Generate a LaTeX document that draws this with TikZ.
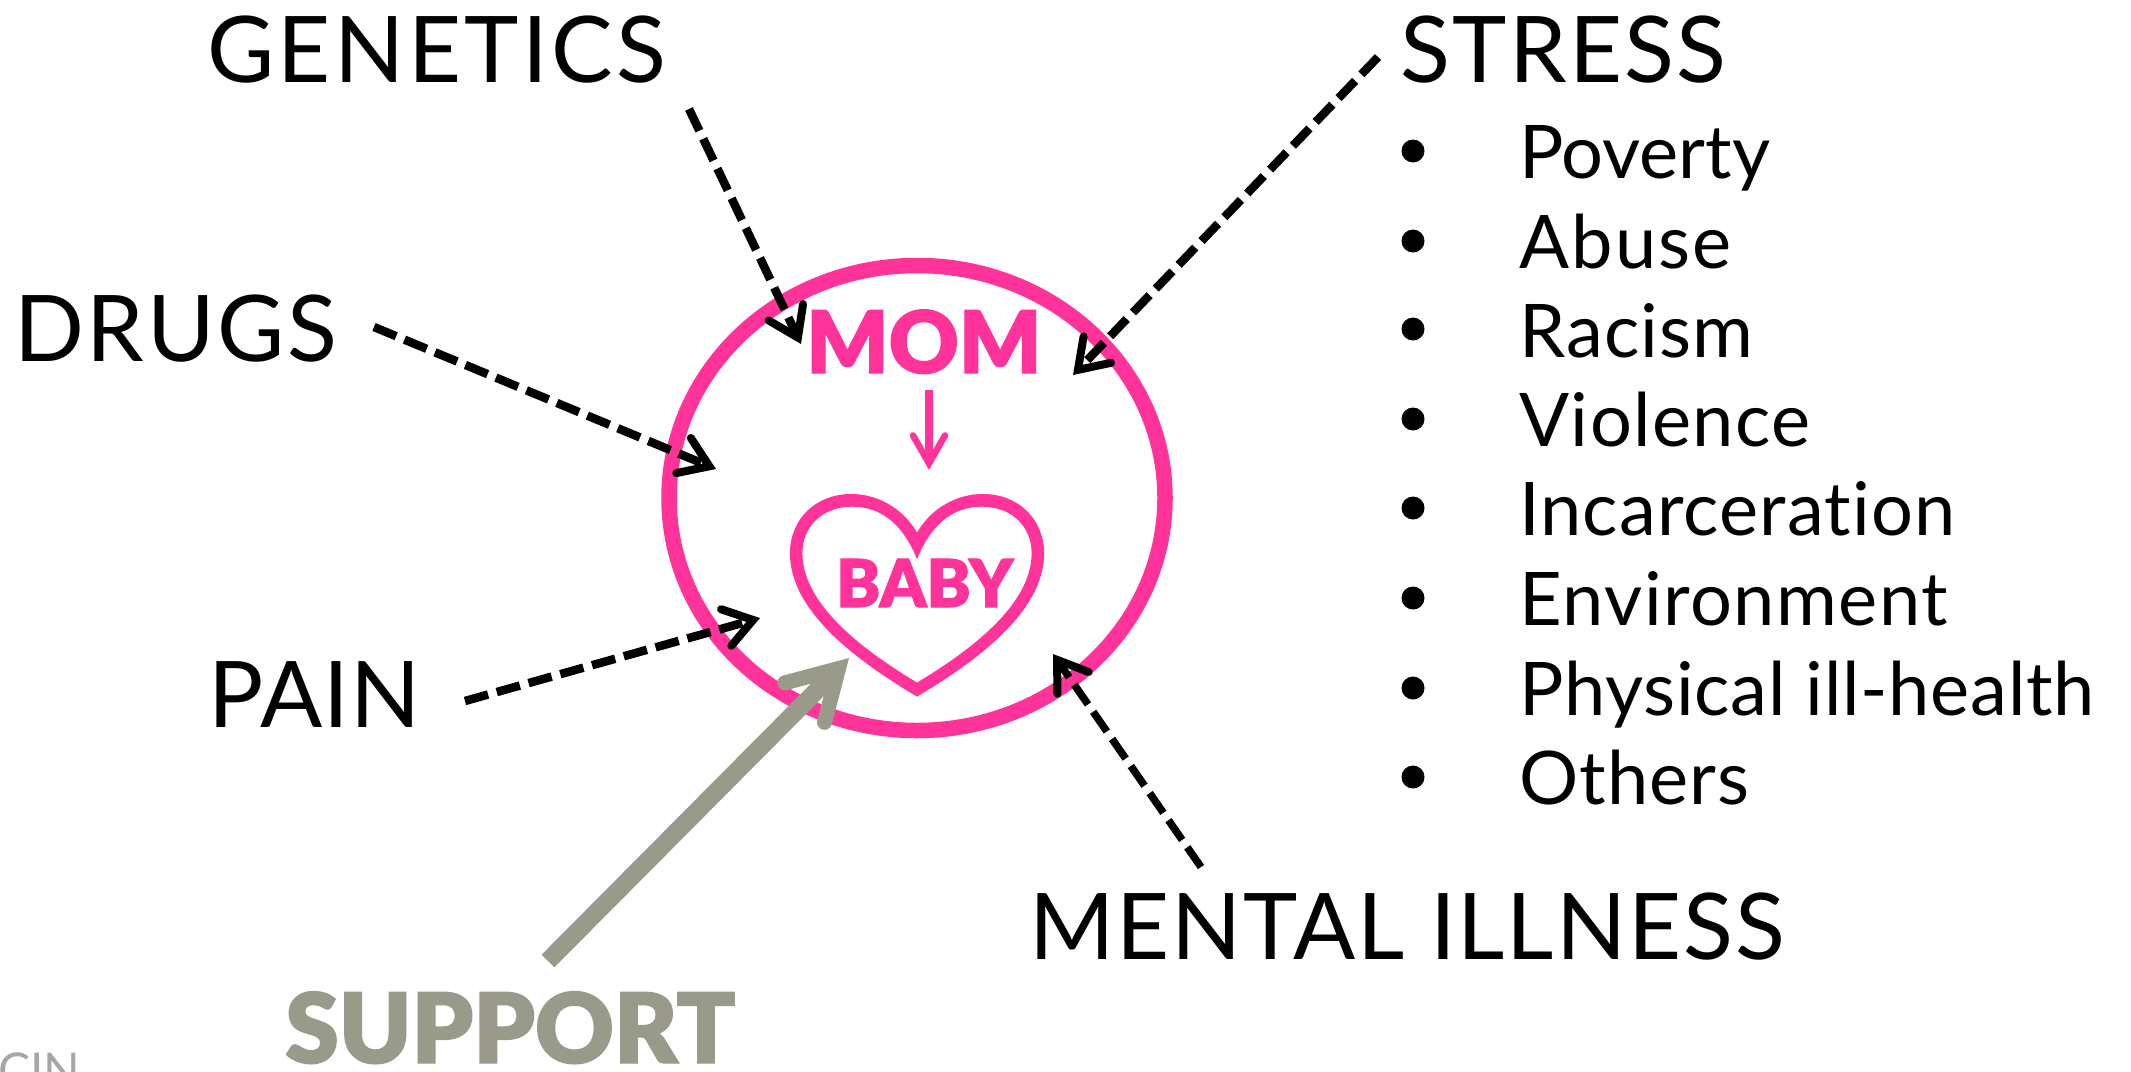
\documentclass[tikz,border=0pt]{standalone}
\usepackage{fontspec}
\usetikzlibrary{arrows.meta}
\newfontfamily\thinfont[Ligatures=NoCommon]{Lato Regular}
\newfontfamily\heavyfont[FakeBold=1.5]{Lato Black}
\newcommand{\spaced}[1]{\addfontfeatures{LetterSpace=#1}}
\definecolor{momPink}{HTML}{FF3399}
\definecolor{supGrey}{HTML}{9A9A8A}
\tikzset{
  x=1pt,y=-1pt,
  bigtxt/.style={anchor=base west,inner sep=0pt,font=\thinfont\fontsize{92}{92}\selectfont,text=black},
  listtxt/.style={anchor=base west,inner sep=0pt,font=\thinfont\fontsize{74}{74}\selectfont,text=black},
  dotmark/.style={circle,fill=black,inner sep=0pt,minimum size=23pt},
  dasharrow/.style={draw=black,line width=8.5pt,dash pattern=on 24pt off 9pt,
    -{Straight Barb[length=28pt,width=38pt,line width=8pt,line cap=round,line join=miter]}},
}
\begin{document}
\begin{tikzpicture}
\useasboundingbox (0,0) rectangle (2131,1071);
\clip (0,0) rectangle (2131,1071);
\fill[white] (0,0) rectangle (2131,1071);
% mother circle
\draw[momPink,line width=15.5pt] (917,498) ellipse [x radius=248,y radius=232.5];
% heart
\begin{scope}[shift={(640,240)},xscale=0.357,yscale=0.3333]
\fill[momPink,even odd rule]
 (776,878) .. controls (740,810) and (670,762) .. (592,762)
 .. controls (490,762) and (420,840) .. (420,940)
 .. controls (420,1120) and (620,1270) .. (776,1370)
 .. controls (932,1270) and (1132,1120) .. (1132,940)
 .. controls (1132,840) and (1062,762) .. (960,762)
 .. controls (882,762) and (812,810) .. (776,878) -- cycle
 (776,958) .. controls (740,860) and (680,800) .. (595,800)
 .. controls (510,800) and (455,860) .. (455,940)
 .. controls (455,1100) and (640,1240) .. (776,1328)
 .. controls (912,1240) and (1097,1100) .. (1097,940)
 .. controls (1097,860) and (1042,800) .. (957,800)
 .. controls (872,800) and (812,860) .. (776,958) -- cycle;
\end{scope}
% labels
\node[bigtxt] (genetics) at (207,82) {\spaced{3.7}GENETICS};
\node[bigtxt] (stress) at (1400,82) {\spaced{2.5}STRESS};
\node[bigtxt] (drugs) at (14,361) {\spaced{3}DRUGS};
\node[bigtxt] (pain) at (208,727) {\spaced{1.5}PAIN};
\node[bigtxt] (mental) at (1029,959) {\spaced{2}MENTAL ILLNESS};
\node[anchor=base west,inner sep=0pt,text=supGrey,font=\heavyfont\fontsize{97}{97}\selectfont] (support) at (285,1063) {SUPPORT};
\node[anchor=base west,inner sep=0pt,text=momPink,font=\heavyfont\fontsize{86}{86}\selectfont] (mom) at (806,373) {MOM};
\node[anchor=base west,inner sep=0pt,text=momPink,font=\heavyfont\fontsize{66}{66}\selectfont] (baby) at (836,607) {BABY};
\node[anchor=base west,inner sep=0pt,text=black!35,font=\thinfont\fontsize{48}{48}\selectfont] (cin) at (-2,1087) {CIN};
% list
\foreach \n/\t/\b/\c/\s in {a/Poverty/178/151/0,b/Abuse/268/241/3,c/Racism/357/329/1.5,d/Violence/446/419/2,e/Incarceration/535/508/1.5,f/Environment/625/598/2,g/Physical ill-health/715/688/1,h/Others/804/777/1.5}{
  \node[listtxt] (item\n) at (1519,\b) {\spaced{\s}\t};
  \node[dotmark] (dot\n) at (1413,\c) {};
}
% connector ends
\coordinate (gs) at (689,109); \coordinate (ge) at (801,344);
\coordinate (ss) at (1378,57); \coordinate (se) at (1073,375);
\coordinate (ds) at (374,327); \coordinate (de) at (716,469);
\coordinate (ps) at (465,701); \coordinate (pe) at (760,618);
\coordinate (ms) at (1201,867); \coordinate (me) at (1053,654);
\coordinate (us) at (548,961); \coordinate (ue) at (849,658);
\coordinate (ks) at (929,390); \coordinate (ke) at (929,470);
\draw[dasharrow] (gs) -- (ge);
\draw[dasharrow] (ss) -- (se);
\draw[dasharrow] (ds) -- (de);
\draw[dasharrow] (ps) -- (pe);
\draw[dasharrow,line width=7.5pt] (ms) -- (me);
\draw[supGrey,line width=18pt,-{Straight Barb[length=48pt,width=56pt,line width=15pt,line cap=round,line join=miter]}] (us) -- (ue);
\draw[momPink,line width=7.5pt,-{Straight Barb[length=28pt,width=32pt,line width=6.5pt,line cap=round,line join=miter]}] (ks) -- (ke);
\end{tikzpicture}
\end{document}
